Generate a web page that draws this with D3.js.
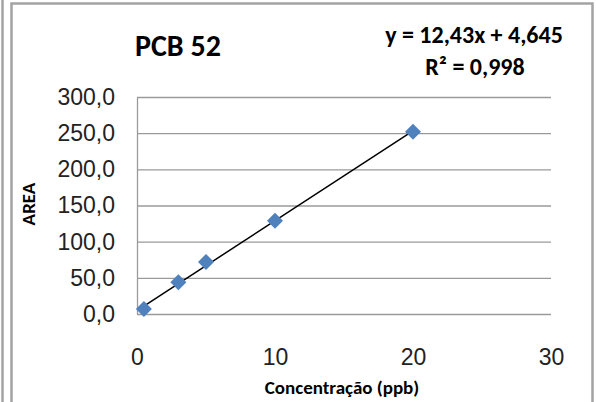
<!DOCTYPE html>
<html>
<head>
<meta charset="utf-8">
<script src="https://cdn.jsdelivr.net/npm/d3@7"></script>
<style>
  body { margin: 0; background: #fff; }
  svg { display: block; font-family: Carlito, Calibri, Lato, sans-serif; }
</style>
</head>
<body>
<div id="chart"></div>
<script>
// calibration curve PCB 52, area vs concentration
var concentration = [0.5, 3, 5, 10, 20];
var area = [7, 44, 72, 129, 252];
var xTicks = [0, 10, 20, 30];
var yTicks = [0, 50, 100, 150, 200, 250, 300];
var slope = 12.43, intercept = 4.645;
var title = "PCB 52";
var eqText = "y = 12,43x + 4,645";
var r2Text = "R² = 0,998";

var W = 596, H = 402;
var margin = { top: 97, left: 137, right: 45, bottom: 88 };
var width = W - margin.left - margin.right,
    height = H - margin.top - margin.bottom;

var svg = d3.select("#chart").append("svg")
    .attr("width", W)
    .attr("height", H);

// chart frame
var frame = svg.append("g").attr("stroke", "#a3a3a3").attr("stroke-width", 2.5).attr("fill", "none");
frame.append("line").attr("x1", 2.5).attr("x2", 2.5).attr("y1", 0).attr("y2", H);
frame.append("path").attr("d", "M11.5," + H + "V3.5H592.5V" + H);

var g = svg.append("g")
    .attr("transform", "translate(" + margin.left + "," + margin.top + ")");

var x = d3.scaleLinear().domain([0, 30]).range([0, width]);
var y = d3.scaleLinear().domain([0, 300]).range([height, 0]);

var loc = d3.formatLocale({ decimal: ",", thousands: ".", grouping: [3], currency: ["", ""] });
var fmt = loc.format(".1f");

// gridlines
g.append("g")
    .attr("class", "grid")
    .call(d3.axisLeft(y).tickValues(yTicks).tickSize(-width).tickFormat(""))
    .call(function(s) {
      s.select(".domain").remove();
      s.selectAll("line").attr("stroke", "#9a9a9a").attr("stroke-width", 1.3);
    });

// y axis
g.append("g")
    .attr("class", "y axis")
    .call(d3.axisLeft(y).tickValues(yTicks).tickSize(0).tickPadding(22).tickFormat(fmt))
    .call(function(s) {
      s.select(".domain").attr("stroke", "#9a9a9a").attr("stroke-width", 1.3);
      s.selectAll("text").attr("font-size", 23).attr("fill", "#222");
    });

// x axis
g.append("g")
    .attr("class", "x axis")
    .attr("transform", "translate(0," + height + ")")
    .call(d3.axisBottom(x).tickValues(xTicks).tickSize(0).tickPadding(35).tickFormat(d3.format("d")))
    .call(function(s) {
      s.select(".domain").remove();
      s.selectAll("text").attr("font-size", 23).attr("fill", "#222");
    });

// trendline
var xMin = d3.min(concentration), xMax = d3.max(concentration);
g.append("line")
    .attr("x1", x(xMin)).attr("y1", y(slope * xMin + intercept))
    .attr("x2", x(xMax)).attr("y2", y(slope * xMax + intercept))
    .attr("stroke", "#000")
    .attr("stroke-width", 1.5);

// markers
var diamond = d3.symbol().type(d3.symbolSquare).size(128);
g.selectAll(".pt")
    .data(concentration)
    .enter().append("path")
    .attr("class", "pt")
    .attr("d", diamond)
    .attr("fill", "#4F81BD")
    .attr("transform", function(d, i) {
      return "translate(" + x(d) + "," + y(area[i]) + ") rotate(45)";
    });

// titles
svg.append("text")
    .attr("x", 135).attr("y", 56)
    .attr("font-size", 30).attr("font-weight", "bold")
    .text(title);

svg.append("text")
    .attr("x", 474).attr("y", 43)
    .attr("text-anchor", "middle")
    .attr("font-size", 24).attr("font-weight", "bold")
    .text(eqText);

svg.append("text")
    .attr("x", 475).attr("y", 75)
    .attr("text-anchor", "middle")
    .attr("font-size", 24).attr("font-weight", "bold")
    .text(r2Text);

svg.append("text")
    .attr("x", margin.left + x(15) - 2).attr("y", 394)
    .attr("text-anchor", "middle")
    .attr("font-size", 19).attr("font-weight", "bold")
    .text("Concentração (ppb)");

svg.append("text")
    .attr("transform", "translate(35,204) rotate(-90)")
    .attr("text-anchor", "middle")
    .attr("font-size", 19).attr("font-weight", "bold")
    .text("AREA");
</script>
</body>
</html>
